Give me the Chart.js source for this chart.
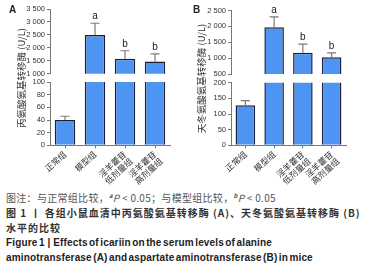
<!DOCTYPE html>
<html>
<head>
<meta charset="utf-8">
<script src="https://cdn.jsdelivr.net/npm/chart.js@4"></script>
<style>
  body { margin: 0; background: #fff; width: 383px; height: 272px; overflow: hidden; position: relative; }
  #boxA { position: absolute; left: 0; top: 0; width: 190px; height: 187px; }
  #boxB { position: absolute; left: 190px; top: 0; width: 193px; height: 187px; }
  .tag { position: absolute; font: bold 10px "Liberation Sans", sans-serif; color: #222; }
  #cap { position: absolute; left: 6px; top: 188px; font-family: "Noto Sans CJK SC", sans-serif; font-size: 10px; line-height: 15px; white-space: nowrap; }
  #cap .l1 { color: #555; letter-spacing: 0.3px; }
  #cap .l2 { color: #333; font-weight: bold; letter-spacing: 1px; }
  #cap .en { color: #222; font-weight: bold; font-family: "Liberation Sans", sans-serif; font-size: 10px; letter-spacing: 0.15px; word-spacing: -1.5px; }
  #cap sup { font-size: 6px; font-weight: bold; font-style: italic; }
</style>
</head>
<body>
<div id="boxA"><canvas id="chartA"></canvas></div>
<div id="boxB"><canvas id="chartB"></canvas></div>
<div class="tag" style="left:9px;top:4px;">A</div>
<div class="tag" style="left:193px;top:4px;">B</div>
<div id="cap">
  <div class="l1">图注：与正常组比较，<sup>a</sup><i>P</i> &lt; 0.05；与模型组比较，<sup>b</sup><i>P</i> &lt; 0.05</div>
  <div class="l2">图 1 丨 各组小鼠血清中丙氨酸氨基转移酶 (A)、天冬氨酸氨基转移酶 (B)</div>
  <div class="l2">水平的比较</div>
  <div class="en">Figure 1 &nbsp;| &nbsp;Effects of icariin on the serum levels of alanine</div>
  <div class="en">aminotransferase (A) and aspartate aminotransferase (B) in mice</div>
</div>
<script>
// 데이터
const groups = ['正常组', '模型组', ['淫羊藿苷', '低剂量组'], ['淫羊藿苷', '高剂量组']];
const altMean = [40, 2500, 1580, 1470];
const altSd   = [6, 450, 310, 300];
const astMean = [128, 1970, 1170, 1030];
const astSd   = [15, 330, 270, 140];
const sigMarks = ['', 'a', 'b', 'b'];
// 끊긴 축 범위 [min, max, step]
const altUpper = [1000, 3500, 500];
const altLower = [0, 100, 20];
const astUpper = [500, 2500, 500];
const astLower = [0, 200, 50];

const CJK = '"Noto Sans CJK SC", sans-serif';
const AXIS = '#777';

const errorBars = {
  id: 'errorBars',
  afterDatasetsDraw(chart, args, opts) {
    const ctx = chart.ctx;
    const x = chart.scales.x;
    const top = chart.scales.yTop, bot = chart.scales.yBot;
    opts.means.forEach((m, i) => {
      const hi = m + opts.sds[i];
      const sc = hi > top.min ? top : bot;
      const cx = x.getPixelForValue(i);
      const y0 = sc.getPixelForValue(m);
      const y1 = sc.getPixelForValue(hi);
      ctx.save();
      ctx.strokeStyle = '#7a7a7a';
      ctx.lineWidth = 1.2;
      ctx.beginPath();
      ctx.moveTo(cx, y0); ctx.lineTo(cx, y1);
      ctx.moveTo(cx - 4.5, y1); ctx.lineTo(cx + 4.5, y1);
      ctx.stroke();
      if (opts.marks[i]) {
        ctx.fillStyle = '#222';
        ctx.font = '10px "Liberation Sans", sans-serif';
        ctx.textAlign = 'center';
        ctx.textBaseline = 'alphabetic';
        ctx.fillText(opts.marks[i], cx, y1 - 4);
      }
      ctx.restore();
    });
  }
};

function fmt(v) {
  return String(v).replace(/\B(?=(\d{3})+(?!\d))/g, ' ');
}

function yAxis(range, weight) {
  return {
    type: 'linear', position: 'left', stack: 's', stackWeight: weight,
    min: range[0], max: range[1],
    ticks: { stepSize: range[2], autoSkip: false, callback: fmt, color: '#333', padding: 2,
             font: { family: '"Liberation Sans", sans-serif', size: 7.5 } },
    grid: { drawOnChartArea: false, tickLength: 3, color: AXIS },
    border: { color: AXIS }
  };
}

function buildChart(id, means, sds, upper, lower, title, weights, pad, titlePad) {
  const bar = {
    backgroundColor: '#4d94f3', borderColor: '#1b1f3a', borderWidth: 1.5,
    grouped: false, clip: 0, barPercentage: 0.68, categoryPercentage: 1
  };
  return new Chart(document.getElementById(id), {
    type: 'bar',
    data: {
      labels: groups,
      datasets: [
        Object.assign({ data: means, yAxisID: 'yTop' }, bar),
        Object.assign({ data: means, yAxisID: 'yBot' }, bar)
      ]
    },
    options: {
      responsive: true,
      maintainAspectRatio: false,
      animation: false,
      layout: { padding: pad },
      plugins: {
        legend: { display: false },
        tooltip: { enabled: false },
        errorBars: { means: means, sds: sds, marks: sigMarks }
      },
      scales: {
        x: {
          grid: { drawOnChartArea: false, offset: false, tickLength: 3, color: AXIS },
          border: { color: AXIS },
          ticks: { autoSkip: false, minRotation: 42, maxRotation: 42, color: '#333', padding: 1,
                   font: { family: CJK, size: 8.5, lineHeight: 1.1 } }
        },
        // 왼쪽 스택은 나중에 정의한 축이 위에 놓임
        yBot: yAxis(lower, weights[2]),
        yGap: {
          type: 'linear', position: 'left', stack: 's', stackWeight: weights[1],
          ticks: { display: false },
          grid: { display: false, drawTicks: false },
          border: { display: false },
          title: { display: true, text: title, color: '#333',
                   font: { family: CJK, size: 9.5 }, padding: { top: 0, bottom: titlePad } }
        },
        yTop: yAxis(upper, weights[0])
      }
    },
    plugins: [errorBars]
  });
}

buildChart('chartA', altMean, altSd, altUpper, altLower, '丙氨酸氨基转移酶 (U/L)',
  [62.5, 8, 61], { left: 16, right: 20, top: 9, bottom: 0 }, 22.6);
buildChart('chartB', astMean, astSd, astUpper, astLower, '天冬氨酸氨基转移酶 (U/L)',
  [61.6, 8.4, 60.6], { left: 6, right: 37, top: 10.5, bottom: 0 }, 23.6);
</script>
</body>
</html>
